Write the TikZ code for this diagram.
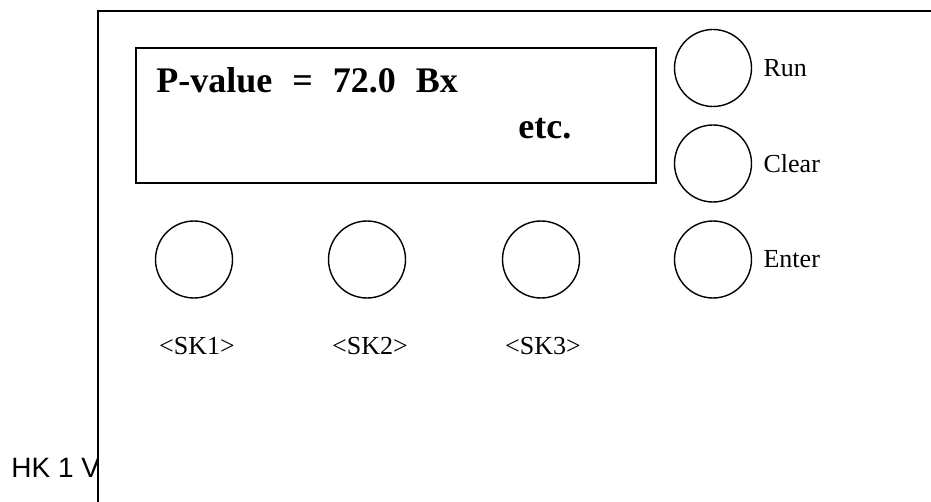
\documentclass[tikz,border=0pt]{standalone}
\usepackage{fontspec}
\setmainfont{Liberation Serif}
\newfontfamily\hkfont{Liberation Sans}
\usetikzlibrary{positioning}
\tikzset{framestyle/.style = {line width = 0.8pt},
	displaystyle/.style = {rectangle, draw, line width = 1pt, minimum width = 260pt, minimum height = 67.5pt},
	screentext/.style = {font = \fontsize{18}{21}\selectfont\bfseries, inner sep = 0pt},
	keystyle/.style = {circle, draw, line width = 0.7pt, minimum size = 38.5pt, inner sep = 0pt},
	keylabel/.style = {font = \fontsize{13}{15}\selectfont, inner sep = 0pt}}

\begin{document}
\begin{tikzpicture}[x = 0.5pt, y = -0.5pt]

 \useasboundingbox (0,0) rectangle (931,502);

 \node (hk) at (11,477) [anchor = base west, inner sep = 0pt, font = \hkfont\fontsize{14}{16}\selectfont] {HK 1 V};
 \fill [white] (98,11) rectangle (931,502);
 \draw [framestyle] (98,502) -- (98,11) -- (931,11);

 \node (display) at (396,115.5) [displaystyle] {};
 \node (pvalue) at (156,93) [screentext, anchor = base west] {P-value\hspace{10pt}=\hspace{10pt}72.0\hspace{10pt}Bx};
 \node (etc) at (518,139) [screentext, anchor = base west] {etc.};

 \node (run) at (713,68) [keystyle] {};
 \node (clear) at (713,163.5) [keystyle] {};
 \node (enter) at (713,259.5) [keystyle] {};
 \node (runlbl) [keylabel, right = 5.5pt of run] {Run};
 \node (clearlbl) [keylabel, right = 5.5pt of clear] {Clear};
 \node (enterlbl) [keylabel, right = 5.5pt of enter] {Enter};

 \node (sk1) at (194,259.5) [keystyle] {};
 \node (sk2) at (367,259.5) [keystyle] {};
 \node (sk3) at (541,259.5) [keystyle] {};
 \node (sk1lbl) at (197,354) [keylabel, anchor = base] {<SK1>};
 \node (sk2lbl) at (370,354) [keylabel, anchor = base] {<SK2>};
 \node (sk3lbl) at (543,354) [keylabel, anchor = base] {<SK3>};

\end{tikzpicture}
\end{document}
